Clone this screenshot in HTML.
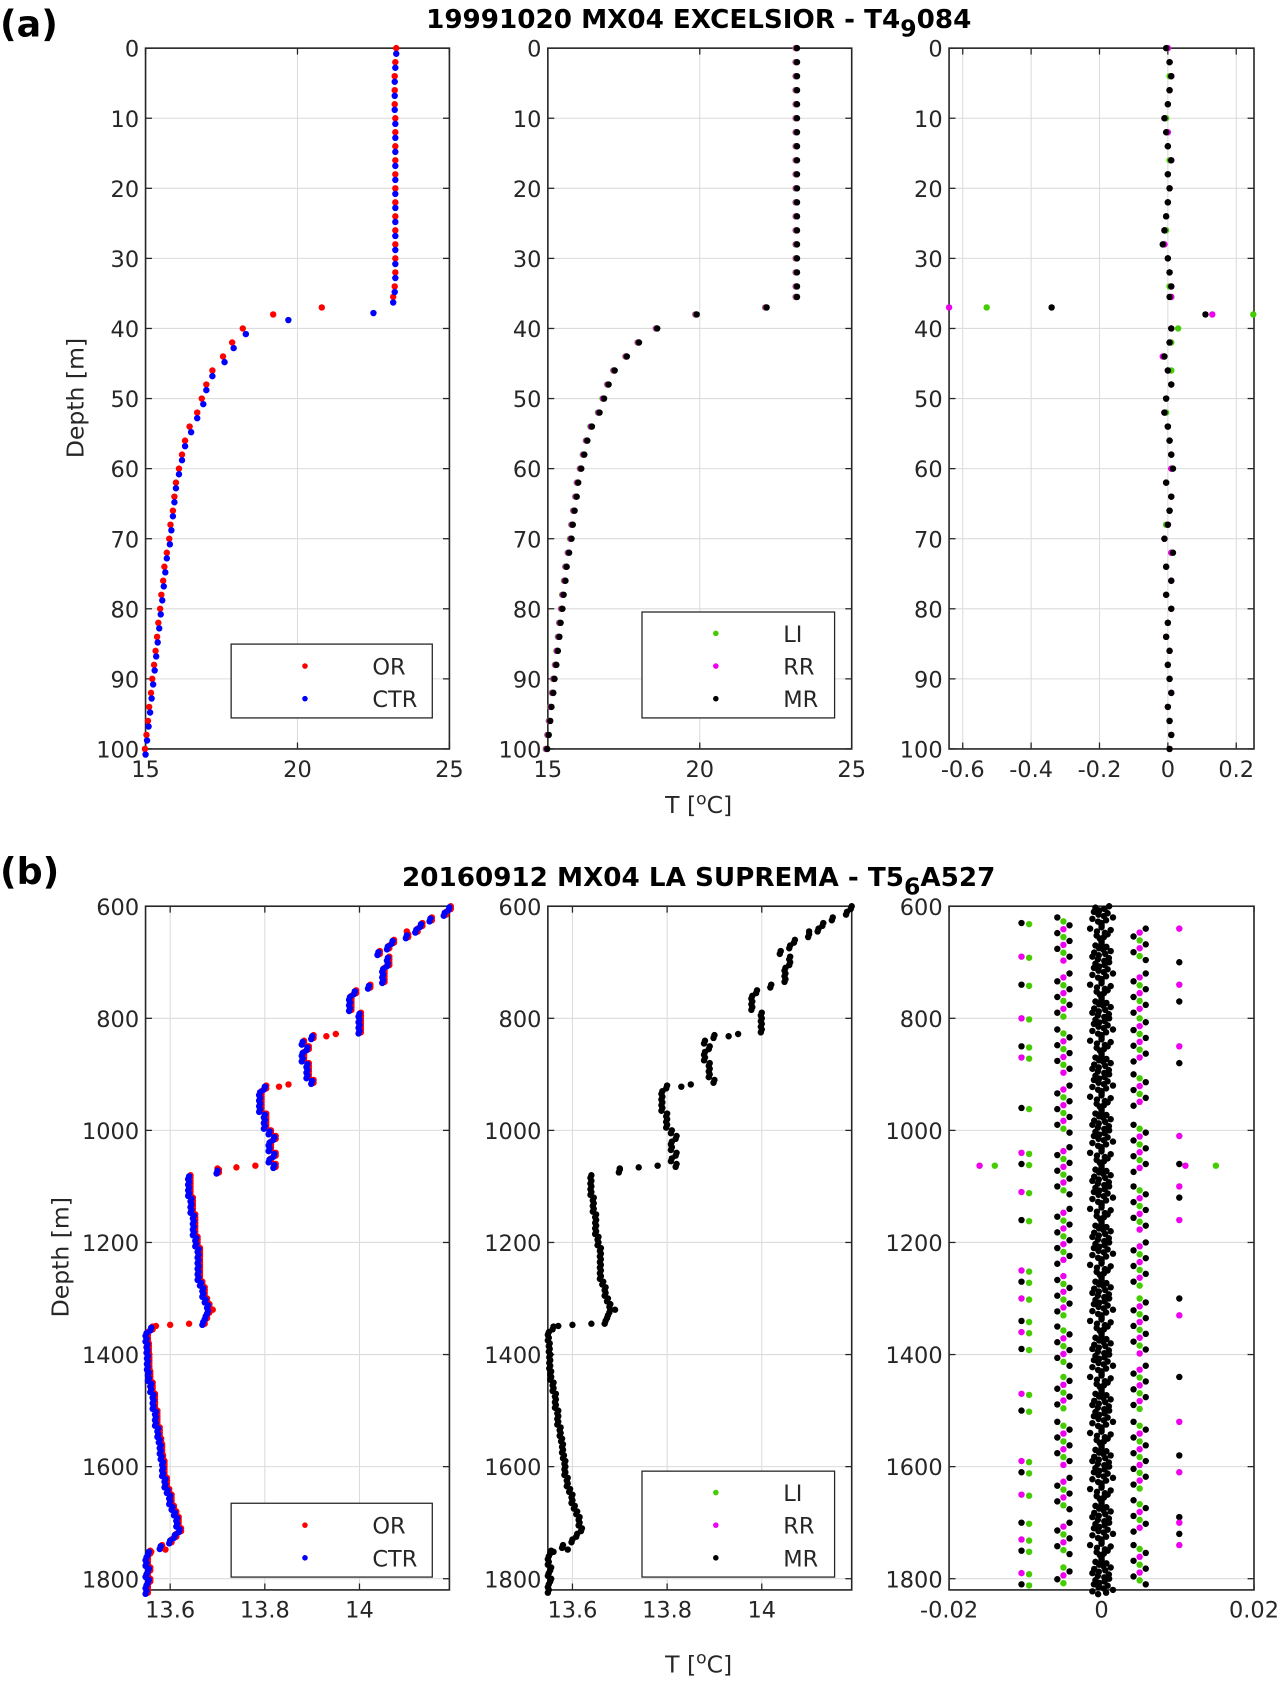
<!DOCTYPE html>
<html><head><meta charset="utf-8"><style>
html,body{margin:0;padding:0;background:#fff;}
svg{display:block;font-family:"DejaVu Sans","Liberation Sans",sans-serif;}
</style></head><body>
<svg id="fig" width="1284" height="1683" viewBox="0 0 1200 1573" xmlns="http://www.w3.org/2000/svg">
<rect width="1200" height="1573" fill="#fff"/>
<text x="0" y="34" font-size="34" font-weight="bold">(a)</text>
<text x="0" y="826" font-size="34" font-weight="bold">(b)</text>
<text x="653" y="26" font-size="24.5" font-weight="bold" text-anchor="middle">19991020 MX04 EXCELSIOR - T4<tspan dy="8" font-size="22">9</tspan><tspan dy="-8">084</tspan></text>
<text x="653" y="828" font-size="24.5" font-weight="bold" text-anchor="middle">20160912 MX04 LA SUPREMA - T5<tspan dy="8" font-size="22">6</tspan><tspan dy="-8">A527</tspan></text>
<text transform="translate(78,372) rotate(-90)" font-size="22" fill="#262626" text-anchor="middle">Depth [m]</text>
<text transform="translate(64,1175) rotate(-90)" font-size="22" fill="#262626" text-anchor="middle">Depth [m]</text>
<text x="653" y="760" font-size="22" fill="#262626" text-anchor="middle">T [<tspan dy="-8" font-size="16">o</tspan><tspan dy="8">C]</tspan></text>
<text x="653" y="1563" font-size="22" fill="#262626" text-anchor="middle">T [<tspan dy="-8" font-size="16">o</tspan><tspan dy="8">C]</tspan></text>
</svg>
<script>
// ---------- Panel (a) data ----------
const aDepth=[0,2,4,6,8,10,12,14,16,18,20,22,24,26,28,30,32,34,35.5,37,38,40,42,44,46,48,50,52,54,56,58,60,62,64,66,68,70,72,74,76,78,80,82,84,86,88,90,92,94,96,98,100];
const aCTR=[23.25,23.22,23.2,23.2,23.2,23.22,23.22,23.22,23.22,23.22,23.22,23.22,23.22,23.22,23.22,23.22,23.22,23.2,23.15,22.5,19.7,18.3,17.9,17.6,17.2,17.0,16.9,16.7,16.5,16.3,16.2,16.1,16.0,15.95,15.9,15.85,15.8,15.7,15.65,15.6,15.55,15.5,15.45,15.4,15.35,15.3,15.25,15.2,15.15,15.1,15.05,15.0];
const aOR=[23.25,23.22,23.2,23.2,23.2,23.22,23.22,23.22,23.22,23.22,23.22,23.22,23.22,23.22,23.22,23.22,23.22,23.2,23.15,20.8,19.2,18.2,17.85,17.55,17.2,17.0,16.85,16.7,16.45,16.3,16.2,16.1,16.0,15.95,15.9,15.82,15.78,15.7,15.62,15.58,15.52,15.48,15.42,15.38,15.33,15.28,15.22,15.18,15.12,15.08,15.03,14.98];
const aMR=[23.2,23.2,23.2,23.2,23.2,23.2,23.2,23.2,23.2,23.2,23.2,23.2,23.2,23.2,23.2,23.2,23.2,23.2,23.2,22.2,19.9,18.6,18.0,17.6,17.2,17.0,16.85,16.7,16.45,16.3,16.2,16.1,16.0,15.95,15.88,15.82,15.78,15.7,15.62,15.58,15.52,15.48,15.42,15.38,15.33,15.28,15.22,15.18,15.12,15.08,15.03,14.98];
const aDiffMR=[-0.005,0.005,0.01,0.005,0,-0.01,-0.005,0,0.01,0,0.005,0,-0.005,-0.01,-0.015,0,0.005,0.01,0.005,-0.34,0.11,0.01,0.005,-0.01,0,0.01,-0.005,-0.01,0,0.005,0.01,0.015,-0.005,0.01,0.005,0,-0.01,0.015,-0.005,0.01,-0.005,0.01,0,-0.005,0.005,0,0.005,0.01,0,0.005,0.01,0.005];
const aDiffRR=[0,0.005,0.01,0.005,0,-0.01,0,0,0.01,0,0.005,0,-0.005,-0.01,-0.01,0,0.005,0.01,0.01,-0.64,0.13,0.01,0.005,-0.015,0,0.01,-0.005,-0.01,0,0.005,0.01,0.01,-0.005,0.01,0.005,0,-0.01,0.01,-0.005,0.01,-0.005,0.01,0,-0.005,0.005,0,0.005,0.01,0,0.005,0.01,0.005];
const aDiffLI=[0,0.005,0.005,0.005,0,-0.005,0,0,0.005,0,0.005,0,-0.005,-0.005,-0.01,0,0.005,0.005,0.01,-0.53,0.25,0.03,0.01,-0.01,0.01,0.01,-0.005,-0.005,0,0.005,0.01,0.01,-0.005,0.01,0.005,-0.005,-0.01,0.01,-0.005,0.01,-0.005,0.01,0,-0.005,0.005,0,0.005,0.01,0,0.005,0.01,0.005];
// ---------- Panel (b) data ----------
const bT=[14.19,14.18,14.15,14.13,14.12,14.10,14.07,14.06,14.04,14.06,14.06,14.05,14.05,14.05,14.02,13.99,13.98,13.98,13.98,14.00,14.00,14.00,14.00,13.90,13.88,13.89,13.88,13.88,13.89,13.89,13.89,13.90,13.80,13.79,13.79,13.79,13.79,13.80,13.80,13.80,13.81,13.82,13.81,13.81,13.82,13.81,13.82,13.70,13.64,13.64,13.64,13.64,13.645,13.645,13.645,13.65,13.65,13.65,13.65,13.655,13.655,13.66,13.66,13.66,13.66,13.66,13.66,13.665,13.67,13.67,13.675,13.68,13.68,13.675,13.67,13.56,13.55,13.55,13.552,13.552,13.553,13.553,13.553,13.555,13.555,13.56,13.56,13.565,13.565,13.565,13.57,13.57,13.57,13.575,13.575,13.578,13.58,13.58,13.582,13.585,13.585,13.585,13.59,13.59,13.595,13.60,13.60,13.605,13.61,13.615,13.615,13.62,13.61,13.60,13.58,13.555,13.55,13.55,13.555,13.55,13.555,13.55,13.55];
const bStart=600, bStep=10;
const bStepDepth=[645,828,832,918,922,1063,1066,1068,1320,1345,1347,1349,1748,1752];
const bStepT=[14.1,13.95,13.93,13.85,13.83,13.78,13.74,13.70,13.69,13.64,13.6,13.57,13.59,13.56];
const bZero=[0.001,-0.001,0.0015,0,-0.0015,0.0008,0,-0.0008,0.0012,-0.0012];
const bNeg5=[[620,700],[720,800],[820,900],[920,1010],[1030,1120],[1140,1240],[1260,1330],[1350,1420],[1440,1500],[1520,1600],[1620,1680],[1700,1760],[1780,1810]];
const bPos5=[[640,700],[720,790],[800,880],[900,960],[990,1080],[1100,1180],[1200,1280],[1300,1400],[1420,1500],[1520,1640],[1660,1720],[1740,1810]];
const bNeg10=[630,690,740,800,850,870,960,1040,1060,1110,1160,1250,1270,1300,1340,1360,1390,1470,1500,1590,1610,1650,1700,1730,1750,1790,1810];
const bPos10=[640,700,740,770,850,880,1010,1060,1100,1120,1160,1300,1330,1440,1520,1580,1610,1690,1700,1720,1740];

const NS="http://www.w3.org/2000/svg";
const svg=document.getElementById('fig');
function mk(tag,attrs,parent){const e=document.createElementNS(NS,tag);for(const k in attrs)e.setAttribute(k,attrs[k]);(parent||svg).appendChild(e);return e;}

function axes(name,x0,x1,y0,y1,xmin,xmax,ymin,ymax,xt,xl,yt,yl){
  const g=mk('g',{});
  
  
  const sx=v=>x0+(v-xmin)/(xmax-xmin)*(x1-x0);
  const sy=v=>y0+(v-ymin)/(ymax-ymin)*(y1-y0);
  xt.forEach((v,i)=>{const x=sx(v);
    const l=mk('line',{x1:x,x2:x,y1:y0,y2:y1,stroke:'#dcdcdc','stroke-width':1},g);
    
    mk('line',{x1:x,x2:x,y1:y1,y2:y1-6,stroke:'#262626','stroke-width':1.2},g);
    mk('line',{x1:x,x2:x,y1:y0,y2:y0+6,stroke:'#262626','stroke-width':1.2},g);
    const t=mk('text',{x:x,y:y1+26,'font-size':21,fill:'#262626','text-anchor':'middle'},g);t.textContent=xl[i];
    });
  yt.forEach((v,i)=>{const y=sy(v);
    const l=mk('line',{x1:x0,x2:x1,y1:y,y2:y,stroke:'#dcdcdc','stroke-width':1},g);
    
    mk('line',{x1:x0,x2:x0+6,y1:y,y2:y,stroke:'#262626','stroke-width':1.2},g);
    mk('line',{x1:x1,x2:x1-6,y1:y,y2:y,stroke:'#262626','stroke-width':1.2},g);
    const t=mk('text',{x:x0-6,y:y+8,'font-size':21,fill:'#262626','text-anchor':'end'},g);t.textContent=yl[i];
    });
  const f=mk('rect',{x:x0,y:y0,width:x1-x0,height:y1-y0,fill:'none',stroke:'#262626','stroke-width':1.5},g);
  
  const dots=mk('g',{},svg);
  
  
  return {sx,sy,x0,x1,y0,y1,dots};
}
function dot(ax,v,d,c){
  const x=ax.sx(v),y=ax.sy(d);
  if(x<ax.x0-3||x>ax.x1+3)return;
  const e=mk('circle',{cx:x,cy:y,r:3,fill:c},ax.dots);
  
  
}
function legend(x,y,w,h,items,name){
  const g=mk('g',{});
  
  
  mk('rect',{x:x,y:y,width:w,height:h,fill:'#fff',stroke:'#262626','stroke-width':1.2},g);
  const n=items.length, step=30.5, top=y+h-18-(n-1)*step;
  items.forEach((it,i)=>{const yy=top+i*step;
    mk('circle',{cx:x+69,cy:yy,r:2.6,fill:it[1]},g);
    const t=mk('text',{x:x+132,y:yy+8,'font-size':21,fill:'#262626'},g);t.textContent=it[0];
    });
}
const RED='#ff0000',BLUE='#0000ff',GRN='#44cc00',MAG='#ee00ee',BLK='#000';
const yA=[0,10,20,30,40,50,60,70,80,90,100];
// panel a
const a1=axes('axes-a-left',136,420,45,700,15,25,0,100,[15,20,25],['15','20','25'],yA,yA.map(String));
const a2=axes('axes-a-middle',512,796,45,700,15,25,0,100,[15,20,25],['15','20','25'],yA,yA.map(String));
const a3=axes('axes-a-right',887,1172,45,700,-0.64,0.252,0,100,[-0.6,-0.4,-0.2,0,0.2],['-0.6','-0.4','-0.2','0','0.2'],yA,yA.map(String));
aDepth.forEach((d,i)=>{dot(a1,aOR[i],d,RED);});
aDepth.forEach((d,i)=>{dot(a1,aCTR[i],d+0.8,BLUE);});
aDepth.forEach((d,i)=>{dot(a2,aMR[i]-0.05,d,GRN);dot(a2,aMR[i]-0.03,d,MAG);dot(a2,aMR[i],d,BLK);});
aDepth.forEach((d,i)=>{dot(a3,aDiffLI[i],d,GRN);dot(a3,aDiffRR[i],d,MAG);dot(a3,aDiffMR[i],d,BLK);});
legend(216,602,188,69,[['OR',RED],['CTR',BLUE]],'legend-a-left');
legend(600,572,180,99,[['LI',GRN],['RR',MAG],['MR',BLK]],'legend-a-middle');
// panel b
const yB=[600,800,1000,1200,1400,1600,1800];
const b1=axes('axes-b-left',136,420,847,1486,13.548,14.19,600,1820,[13.6,13.8,14],['13.6','13.8','14'],yB,yB.map(String));
const b2=axes('axes-b-middle',512,796,847,1486,13.548,14.19,600,1820,[13.6,13.8,14],['13.6','13.8','14'],yB,yB.map(String));
const b3=axes('axes-b-right',887,1172,847,1486,-0.02,0.02,600,1820,[-0.02,0,0.02],['-0.02','0','0.02'],yB,yB.map(String));
bT.forEach((t,i)=>{const d=bStart+i*bStep;dot(b1,t+0.003,d,RED);dot(b1,t+0.003,d+5,RED);});
bStepDepth.forEach((d,i)=>{dot(b1,bStepT[i],d,RED);dot(b2,bStepT[i],d,BLK);});
bT.forEach((t,i)=>{const d=bStart+i*bStep;dot(b1,t,d+2,BLUE);dot(b1,t-0.002,d+7,BLUE);});
bT.forEach((t,i)=>{const d=bStart+i*bStep;dot(b2,t,d,BLK);dot(b2,t-0.002,d+5,BLK);});
bT.forEach((t,i)=>{const d=bStart+i*bStep;const z=bZero[i%bZero.length];
  dot(b3,z,d,BLK);dot(b3,-z*0.8,d+2.5,BLK);dot(b3,z*0.4,d+5,BLK);dot(b3,-z*0.3,d+7.5,BLK);});
function seg(list,v){list.forEach(s=>{for(let d=s[0];d<=s[1];d+=7){
  const k=Math.round(d/7)%4;
  dot(b3,v+(k===1?-0.0008:k===3?0.0008:0),d,k===0?MAG:k===2?GRN:BLK);}});}
seg(bNeg5,-0.005);seg(bPos5,0.005);
bNeg10.forEach((d,i)=>{dot(b3,-0.0105,d,i%2?MAG:BLK);dot(b3,-0.0095,d+2,GRN);});
bPos10.forEach((d,i)=>{dot(b3,0.0102,d,i%2?BLK:MAG);});
dot(b3,-0.016,1063,MAG);dot(b3,-0.014,1063,GRN);dot(b3,0.015,1063,GRN);dot(b3,0.011,1063,MAG);
legend(216,1405,188,69,[['OR',RED],['CTR',BLUE]],'legend-b-left');
legend(600,1375,180,99,[['LI',GRN],['RR',MAG],['MR',BLK]],'legend-b-middle');
</script>
</body></html>
